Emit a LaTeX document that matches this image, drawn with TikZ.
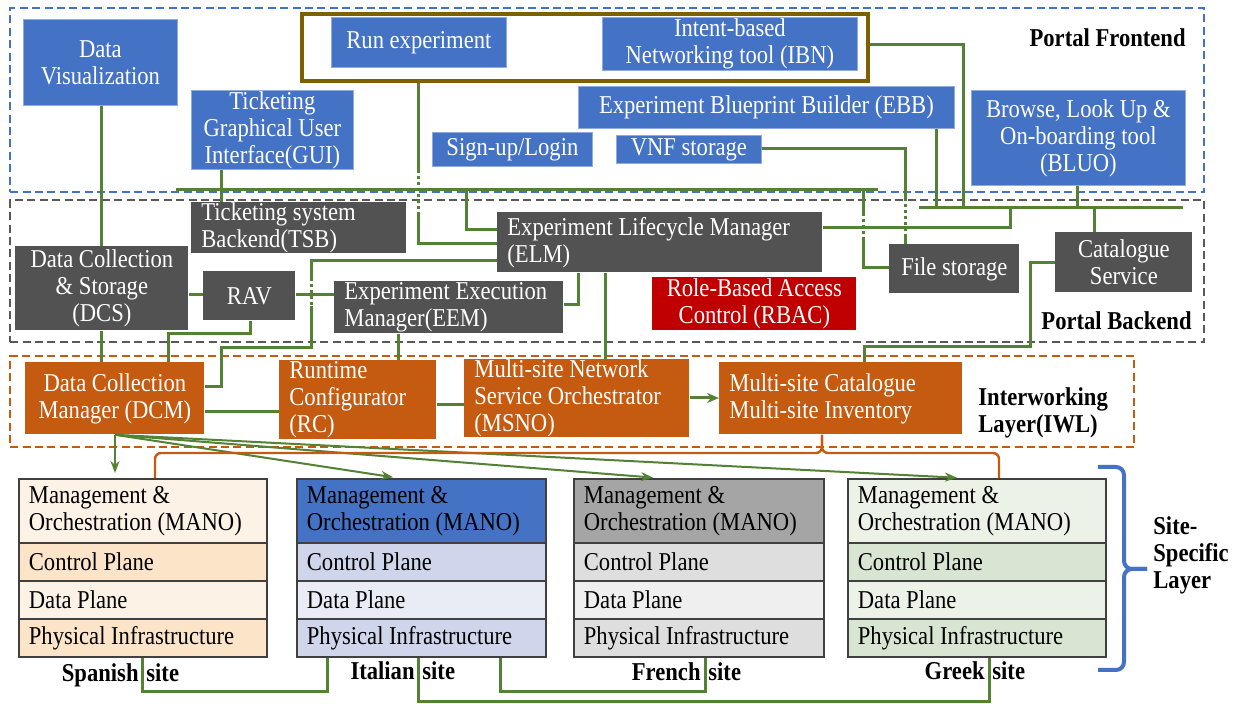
\documentclass[tikz,border=0pt]{standalone}
\usepackage{fontspec}
\setmainfont[FakeStretch=0.88]{Liberation Serif}
\usetikzlibrary{arrows.meta,calc}
\definecolor{cblue}{HTML}{4472C4}
\definecolor{cgray}{HTML}{525252}
\definecolor{corange}{HTML}{C55A11}
\definecolor{cred}{HTML}{C00000}
\definecolor{cgreen}{HTML}{548235}
\definecolor{cbrown}{HTML}{7F6000}
\definecolor{cdash}{HTML}{595959}
\definecolor{spA}{HTML}{FDF2E6}
\definecolor{spB}{HTML}{FCE4C9}
\definecolor{itB}{HTML}{CFD5EA}
\definecolor{itC}{HTML}{E9EBF5}
\definecolor{frA}{HTML}{A5A5A5}
\definecolor{frB}{HTML}{DEDEDE}
\definecolor{frC}{HTML}{EFEFEF}
\definecolor{grA}{HTML}{EDF2E9}
\definecolor{grB}{HTML}{D9E5D3}
\newcommand\cbx[7]{\pgfmathsetmacro\qbw{(#4-#2)*0.5}\pgfmathsetmacro\qbh{(#5-#3)*0.5}%
  \node[#6,anchor=north west,minimum width=\qbw pt,minimum height=\qbh pt,inner sep=0pt,align=center] (#1) at (#2,#3) {#7};}
\newcommand\lbx[7]{\pgfmathsetmacro\qbw{(#4-#2)*0.5}\pgfmathsetmacro\qbh{(#5-#3)*0.5}\pgfmathsetmacro\qtw{(#4-#2)*0.5-10}%
  \node[#6,anchor=north west,minimum width=\qbw pt,minimum height=\qbh pt,text width=\qtw pt,inner xsep=5pt,inner ysep=0pt,align=flush left] (#1) at (#2,#3) {#7};}
\tikzset{
  bluebox/.style={fill=cblue,text=white,draw=cblue!60!white,line width=0.4pt},
  graybox/.style={fill=cgray,text=white},
  orbox/.style={fill=corange,text=white},
  redbox/.style={fill=cred,text=white},
  siterow/.style={draw=black!75,line width=0.9pt,text=black},
  lbox/.style={line width=1.2pt,dash pattern=on 4pt off 2.2pt},
  gl/.style={draw=cgreen,line width=1.5pt},
  gdot/.style={draw=cgreen,line width=1.5pt,dash pattern=on 1.5pt off 1.5pt},
  garrow/.style={draw=cgreen,line width=1pt,-{Stealth[length=6pt,width=4.5pt]},shorten >=2.5pt},
  ob/.style={draw=corange,line width=1.2pt,rounded corners=3pt},
  bb/.style={draw=cblue,line width=2pt,rounded corners=4pt},
  lbl/.style={font=\fontsize{12.85}{13.5}\selectfont\bfseries,inner sep=0pt},
}
\begin{document}
\begin{tikzpicture}[x=0.5pt,y=-0.5pt,font=\fontsize{12.85}{13.5}\selectfont]
\fill[white] (0,0) rectangle (1239,704);
\useasboundingbox (0,0) rectangle (1239,704);
% layer frames
\cbx{pfront}{9}{7}{1203}{191}{draw=cblue,lbox}{}
\cbx{pback}{9}{199}{1203}{341}{draw=cdash,lbox}{}
\cbx{piwl}{9}{355}{1133}{446}{draw=corange,lbox}{}
% frontend
\cbx{rexp}{300}{12}{866}{79}{draw=cbrown,line width=2pt}{}
\cbx{dv}{23}{19}{177}{105}{bluebox}{Data\\Visualization}
\cbx{run}{331}{17}{506}{67}{bluebox}{Run experiment}
\cbx{ibn}{602}{17}{857}{70}{bluebox}{Intent-based\\Networking tool (IBN)}
\cbx{gui}{191}{90}{353}{169}{bluebox}{Ticketing\\Graphical User\\Interface(GUI)}
\cbx{ebb}{578}{86}{954}{128}{bluebox}{Experiment Blueprint Builder (EBB)}
\cbx{sign}{432}{132}{592}{166}{bluebox}{Sign-up/Login}
\cbx{vnf}{616}{135}{761}{163}{bluebox}{VNF storage}
\cbx{bluo}{971}{90}{1185}{185}{bluebox}{Browse, Look Up \&\\On-boarding tool\\(BLUO)}
% backend
\lbx{tsb}{191}{202}{406}{253}{graybox}{Ticketing~system\\Backend(TSB)}
\lbx{elm}{497}{212}{822}{272}{graybox}{Experiment~Lifecycle~Manager\\(ELM)}
\cbx{dcs}{15}{246}{188}{330}{graybox}{Data Collection\\\& Storage\\(DCS)}
\cbx{rav}{203}{271}{295}{320}{graybox}{RAV}
\lbx{eem}{334}{281}{563}{333}{graybox}{Experiment~Execution\\Manager(EEM)}
\cbx{rbac}{652}{277}{856}{330}{redbox}{Role-Based Access\\Control (RBAC)}
\cbx{fs}{889}{244}{1019}{293}{graybox}{File storage}
\cbx{cat}{1055}{232}{1192}{292}{graybox}{Catalogue\\Service}
% interworking layer
\cbx{dcm}{25}{362}{204}{434}{orbox}{Data Collection\\Manager (DCM)}
\lbx{rc}{279}{360}{436}{439}{orbox}{Runtime\\Configurator\\(RC)}
\lbx{msno}{464}{359}{689}{437}{orbox}{Multi-site~Network\\Service~Orchestrator\\(MSNO)}
\lbx{msc}{719}{362}{962}{434}{orbox}{Multi-site~Catalogue\\Multi-site~Inventory}
% sites
\lbx{spM}{18}{478}{266}{542}{siterow,fill=spA}{Management~\&\\Orchestration~(MANO)}
\lbx{spC}{18}{542}{266}{580}{siterow,fill=spB}{Control Plane}
\lbx{spD}{18}{580}{266}{618}{siterow,fill=spA}{Data Plane}
\lbx{spP}{18}{618}{266}{656}{siterow,fill=spB}{Physical~Infrastructure}
\lbx{itM}{296}{478}{545}{542}{siterow,fill=cblue}{Management~\&\\Orchestration~(MANO)}
\lbx{itC}{296}{542}{545}{580}{siterow,fill=itB}{Control Plane}
\lbx{itD}{296}{580}{545}{618}{siterow,fill=itC}{Data Plane}
\lbx{itP}{296}{618}{545}{656}{siterow,fill=itB}{Physical~Infrastructure}
\lbx{frM}{573}{478}{823}{542}{siterow,fill=frA}{Management~\&\\Orchestration~(MANO)}
\lbx{frC}{573}{542}{823}{580}{siterow,fill=frB}{Control Plane}
\lbx{frD}{573}{580}{823}{618}{siterow,fill=frC}{Data Plane}
\lbx{frP}{573}{618}{823}{656}{siterow,fill=frB}{Physical~Infrastructure}
\lbx{grM}{847}{478}{1105}{542}{siterow,fill=grA}{Management~\&\\Orchestration~(MANO)}
\lbx{grC}{847}{542}{1105}{580}{siterow,fill=grB}{Control Plane}
\lbx{grD}{847}{580}{1105}{618}{siterow,fill=grA}{Data Plane}
\lbx{grP}{847}{618}{1105}{656}{siterow,fill=grB}{Physical~Infrastructure}
% labels
\node[lbl,anchor=east] (pfl) at (1186,38) {Portal Frontend};
\node[lbl,anchor=east] (pbl) at (1192,321) {Portal Backend};
\node[lbl,anchor=west,align=left] (iwl) at (978,413) {Interworking\\Layer(IWL)};
\node[lbl,anchor=west,align=left] (ssl) at (1153,555) {Site-\\Specific\\Layer};
\node[lbl,anchor=base east] (spl) at (139,682) {Spanish};
\node[lbl,anchor=base west] (sps) at (146,682) {site};
\node[lbl,anchor=base east] (itl) at (415,680) {Italian};
\node[lbl,anchor=base west] (its) at (422,680) {site};
\node[lbl,anchor=base east] (frl) at (701,681) {French};
\node[lbl,anchor=base west] (frs) at (708,681) {site};
\node[lbl,anchor=base east] (grl) at (985,680) {Greek};
\node[lbl,anchor=base west] (grs) at (992,680) {site};
% bus coordinates
\coordinate (busL) at (176,190);
\coordinate (busR) at (878,190);
\coordinate (bj1) at (466,190);
\coordinate (bj2) at (863,190);
\coordinate (b2L) at (919,208);
\coordinate (b2R) at (1183,208);
\coordinate (b2j1) at (1010,208);
\coordinate (b2j2) at (963,208);
\coordinate (b2j3) at (936,208);
\coordinate (b2j4) at (1077,208);
\coordinate (b2j5) at (1094,208);
% connectors
\draw[gl] (busL) -- (busR);
\draw[gl] (b2L) -- (b2R);
\draw[gl] (dv.south -| 101,0) -- (dcs.north -| 101,0);
\draw[gl] (dcs.south -| 101,0) -- (dcm.north -| 101,0);
\draw[gl] (gui.south -| 221,0) -- (tsb.north -| 221,0);
\draw[gl] (bj1) |- (elm.west |- 0,230);
\draw[gl] (rexp.south -| 418,0) -- (418,170);
\draw[gdot] (418,170) -- (418,212);
\draw[gl] (418,212) |- (elm.west |- 0,244);
\draw[gl] (elm.west |- 0,261) -| (311,278);
\draw[gdot] (311,278) -- (311,306);
\draw[gl] (311,306) |- (221,348) |- (dcm.east |- 0,387);
\draw[gl] (dcs.east |- 0,295) -- (rav.west |- 0,295);
\draw[gl] (rav.east |- 0,295) -- (eem.west |- 0,295);
\draw[gl] (rav.south -| 250,0) |- (168,334) -- (dcm.north -| 168,0);
\draw[gl] (eem.south -| 398,0) -- (rc.north -| 398,0);
\draw[gl] (eem.east |- 0,305) -| (elm.south -| 578,0);
\draw[gl] (elm.south -| 605,0) -- (msno.north -| 605,0);
\draw[gl] (elm.east |- 0,228) -| (b2j1);
\draw[gl] (rexp.east |- 0,45) -| (b2j2);
\draw[gl] (ebb.south -| 936,0) -- (b2j3);
\draw[gl] (bluo.south -| 1077,0) -- (b2j4);
\draw[gl] (b2j5) -- (cat.north -| 1094,0);
\draw[gl] (bj2) -- (863,213);
\draw[gdot] (863,213) -- (863,240);
\draw[gl] (863,240) |- (fs.west |- 0,268);
\draw[gl] (vnf.east |- 0,149) -| (905,198);
\draw[gdot] (905,198) -- (905,235);
\draw[gl] (905,235) -- (fs.north -| 905,0);
\draw[gl] (cat.west |- 0,263) -| (1030,347) -| (msc.north -| 864,0);
\draw[gl] (dcm.east |- 0,412) -- (rc.west |- 0,412);
\draw[gl] (rc.east |- 0,405) -- (msno.west |- 0,405);
\draw[gl,-{Stealth[length=6pt,width=5pt]}] (msno.east |- 0,398) -- (msc.west |- 0,398);
% DCM to sites
\draw[garrow] (dcm.south -| 115,0) -- (spM.north -| 115,0);
\draw[garrow] (dcm.south -| 115,0) -- (itM.north -| 398,0);
\draw[garrow] (dcm.south -| 115,0) -- (frM.north -| 658,0);
\draw[garrow] (dcm.south -| 115,0) -- (grM.north -| 962,0);
% orange brace from catalogue to sites
\draw[ob] (spM.north -| 155,0) |- (822,453) -- (msc.south -| 822,0);
\draw[ob] (grM.north -| 999,0) |- (822,453) -- (msc.south -| 822,0);
% site-specific brace
\draw[bb] (1098,467) -| (1124,569) -- (1147,569);
\draw[bb] (1098,670) -| (1124,569) -- (1147,569);
% inter-site links
\draw[gl] (spP.south -| 142,0) |- (327,692) -- (itP.south -| 327,0);
\draw[gl] (itP.south -| 500,0) |- (705,692) -- (frP.south -| 705,0);
\draw[gl] (itP.south -| 418,0) |- (989,702) -- (grP.south -| 989,0);
\end{tikzpicture}
\end{document}
